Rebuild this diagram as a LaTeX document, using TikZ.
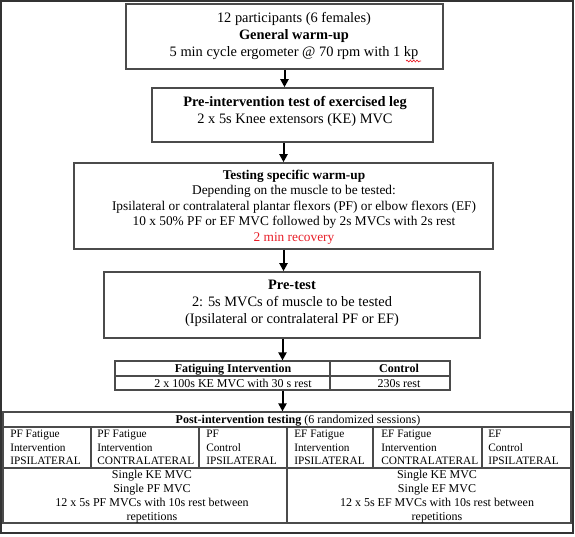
\documentclass[tikz,border=0pt]{standalone}
\usepackage{fontspec}
\setmainfont{Liberation Serif}
\usetikzlibrary{arrows.meta,decorations.pathmorphing}
\definecolor{boxgray}{RGB}{75,75,75}
\definecolor{recred}{RGB}{232,30,40}
\begin{document}
\begin{tikzpicture}[x=0.75pt,y=-0.75pt,
  box/.style={draw=boxgray,line width=1.2pt,inner sep=0pt,minimum width={#1*0.75pt}},
  box/.default=100,
  tablebox/.style={draw=boxgray,line width=0.9pt,inner sep=0pt},
  grid/.style={draw=boxgray,line width=0.9pt},
  flowarrow/.style={line width=1.5pt,-{Triangle[length=6pt,width=6pt]}},
  bigtext/.style={font=\fontsize{10.8pt}{12.75pt}\selectfont,align=center,inner sep=0pt},
  midtext/.style={font=\fontsize{10pt}{11.6pt}\selectfont,align=center,inner sep=0pt},
  smalltext/.style={font=\fontsize{9pt}{10.2pt}\selectfont,inner sep=0pt,anchor=base},
  celltext/.style={font=\fontsize{8.5pt}{10.1pt}\selectfont,align=left,anchor=west,inner sep=0pt},
  lowtext/.style={font=\fontsize{9pt}{10.5pt}\selectfont,align=center,inner sep=0pt}]
\useasboundingbox (0,0) rectangle (575,536);
\fill[white] (0,0) rectangle (575,536);
\draw[line width=1.3pt,black!80] (1,1) rectangle (573,533);

% main boxes
\node[box=317,minimum height={65*0.75pt}] (b1) at (284.5,36.5) {};
\node[box=281,minimum height={54*0.75pt}] (b2) at (292.5,115) {};
\node[box=419,minimum height={86*0.75pt}] (b3) at (283.5,206) {};
\node[box=376,minimum height={66*0.75pt}] (b4) at (292,305) {};

% texts
\node[bigtext] (t1) at (294,36) {12 participants (6 females)\\\textbf{General warm-up}\\5 min cycle ergometer @ 70 rpm with 1 kp};
\coordinate (kpa) at (406,61);
\coordinate (kpb) at (421,61);
\draw[recred,line width=0.5pt,decorate,decoration={snake,amplitude=0.7pt,segment length=2.5pt}] (kpa) -- (kpb);
\node[bigtext] (t2) at (295,111) {\textbf{Pre-intervention test of exercised leg}\\2 x 5s Knee extensors (KE) MVC};
\node[midtext] (t3) at (294,207) {\textbf{Testing specific warm-up}\\Depending on the muscle to be tested:\\Ipsilateral or contralateral plantar flexors (PF) or elbow flexors (EF)\\10 x 50\% PF or EF MVC followed by 2s MVCs with 2s rest\\\textcolor{recred}{2 min recovery}};
\node[bigtext] (t4) at (292,303) {\textbf{Pre-test}\\2: 5s MVCs of muscle to be tested\\(Ipsilateral or contralateral PF or EF)};

% fatiguing table
\node[tablebox,minimum width={335*0.75pt},minimum height={29*0.75pt}] (ft) at (282.5,375.5) {};
\draw[grid] (115,376) -- (450,376);
\draw[grid] (330,361) -- (330,390);
\node[smalltext] (fh) at (233,372.5) {\textbf{Fatiguing Intervention}};
\node[smalltext] (fr) at (233,387) {2 x 100s KE MVC with 30 s rest};
\node[smalltext] (ch) at (399,372.5) {\textbf{Control}};
\node[smalltext] (cr) at (399,387) {230s rest};

% post table
\node[tablebox,minimum width={568*0.75pt},minimum height={111*0.75pt}] (pt) at (287,467.5) {};
\draw[grid] (3,427) -- (571,427);
\draw[grid] (3,468) -- (571,468);
\foreach \xx in {91,199,373,482} \draw[grid] (\xx,427) -- (\xx,468);
\draw[grid] (287,427) -- (287,523);
\node[smalltext] (ph) at (298,423.5) {\textbf{Post-intervention testing} (6 randomized sessions)};
\node[celltext] (c1) at (10,447.5) {PF Fatigue\\Intervention\\IPSILATERAL};
\node[celltext] (c2) at (97,447.5) {PF Fatigue\\Intervention\\CONTRALATERAL};
\node[celltext] (c3) at (206,447.5) {PF\\Control\\IPSILATERAL};
\node[celltext] (c4) at (294,447.5) {EF Fatigue\\Intervention\\IPSILATERAL};
\node[celltext] (c5) at (381,447.5) {EF Fatigue\\Intervention\\CONTRALATERAL};
\node[celltext] (c6) at (488,447.5) {EF\\Control\\IPSILATERAL};
\node[lowtext] (l1) at (152,497) {Single KE MVC\\Single PF MVC\\12 x 5s PF MVCs with 10s rest between\\repetitions};
\node[lowtext] (l2) at (437,497) {Single KE MVC\\Single EF MVC\\12 x 5s EF MVCs with 10s rest between\\repetitions};

% arrows
\draw[flowarrow] (b1.south) -- (b1.south |- b2.north);
\draw[flowarrow] (b3.north |- b2.south) -- (b3.north);
\draw[flowarrow] (b3.south) -- (b3.south |- b4.north);
\draw[flowarrow] (ft.north |- b4.south) -- (ft.north);
\draw[flowarrow] (ft.south) -- (ft.south |- pt.north);
\end{tikzpicture}
\end{document}
